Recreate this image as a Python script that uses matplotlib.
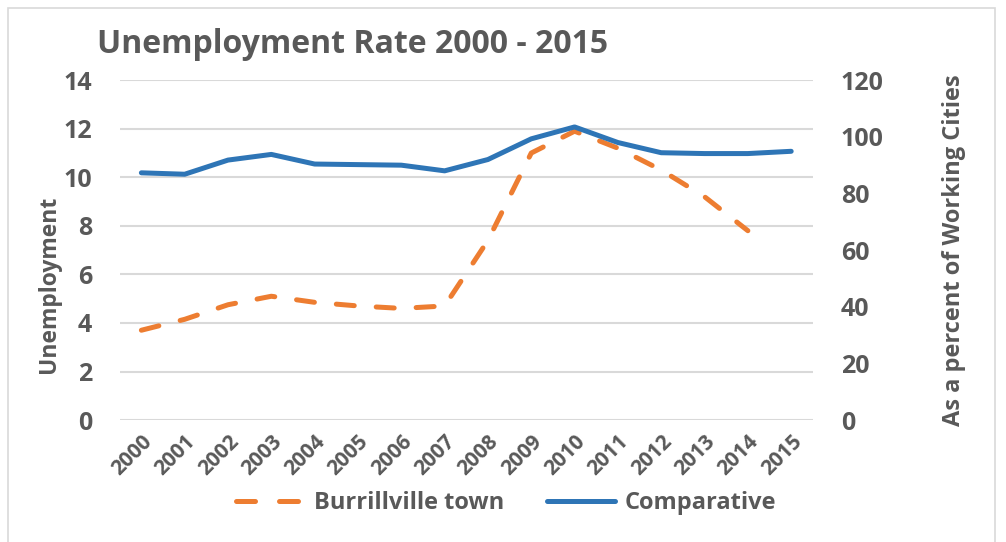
import matplotlib.pyplot as plt
from matplotlib.patches import Rectangle
from matplotlib.lines import Line2D

years = list(range(2000, 2016))
year_labels = [str(y) for y in years]

# Burrillville town (left axis), no value for 2015
town_years = list(range(2000, 2015))
town_rate = [3.7, 4.15, 4.75, 5.1, 4.85, 4.7, 4.6, 4.7, 7.4, 11.0, 11.9, 11.2, 10.3, 9.2, 7.8]

# Comparative (right axis, percent of working cities)
comparative = [87.3, 86.8, 91.8, 93.8, 90.4, 90.2, 90.0, 88.0, 92.0, 99.3, 103.5,
               98.0, 94.4, 94.1, 94.1, 94.9]

grey = '#595959'
orange = '#ED7D31'
blue = '#2E75B6'

plt.rcParams['font.family'] = ['Open Sans', 'DejaVu Sans']
plt.rcParams['font.weight'] = 'bold'

fig = plt.figure(figsize=(10.06, 5.42), dpi=100)
fig.patches.append(Rectangle((0.008, -0.01), 0.981, 0.995, transform=fig.transFigure,
                             fill=False, edgecolor='#d9d9d9', linewidth=1.2))

ax = fig.add_axes([0.119, 0.225, 0.689, 0.627])
ax2 = ax.twinx()

ax.set_xlim(1999.5, 2015.5)
ax.set_ylim(0, 14)
ax2.set_ylim(0, 120)
ax.set_yticks(range(0, 15, 2))
ax2.set_yticks(range(0, 121, 20))
ax.yaxis.grid(True, color='#d9d9d9', linewidth=1.5)
ax.set_axisbelow(True)

for a in (ax, ax2):
    for s in a.spines.values():
        s.set_visible(False)
    a.tick_params(length=0, labelsize=18, labelcolor=grey)

ax.set_xticks(years)
ax.set_xticklabels(year_labels, rotation=45, ha='right', rotation_mode='anchor',
                   fontsize=15, fontweight='bold', color=grey)
ax.tick_params(axis='x', pad=8)
ax.tick_params(axis='y', pad=20)
ax2.tick_params(axis='y', pad=20)

lw = 3.6
ax.plot(town_years, town_rate, color=orange, linewidth=lw, dashes=(3.6, 4.4),
        dash_capstyle='round', zorder=3)
ax2.plot(years, comparative, color=blue, linewidth=lw, solid_capstyle='round', zorder=4)

ax.set_ylabel('Unemployment', fontsize=16.5, fontweight='bold', color=grey)
ax.yaxis.set_label_coords(-0.084, 0.40)
ax2.set_ylabel('As a percent of Working Cities', fontsize=17, fontweight='bold',
               color=grey, labelpad=42)

fig.text(0.096, 0.918, 'Unemployment Rate 2000 - 2015', fontsize=23, fontweight='bold',
         color=grey, ha='left', va='center')

handles = [Line2D([], [], color=orange, linewidth=lw, dashes=(3.8, 4.8), dash_capstyle='round'),
           Line2D([], [], color=blue, linewidth=lw, solid_capstyle='round')]
fig.legend(handles, ['Burrillville town', 'Comparative'], loc='center',
           bbox_to_anchor=(0.503, 0.072), ncol=2, frameon=False, fontsize=17,
           labelcolor=grey, handlelength=2.9, handletextpad=0.4, columnspacing=1.8)

fig.savefig('out.png', dpi=100)
